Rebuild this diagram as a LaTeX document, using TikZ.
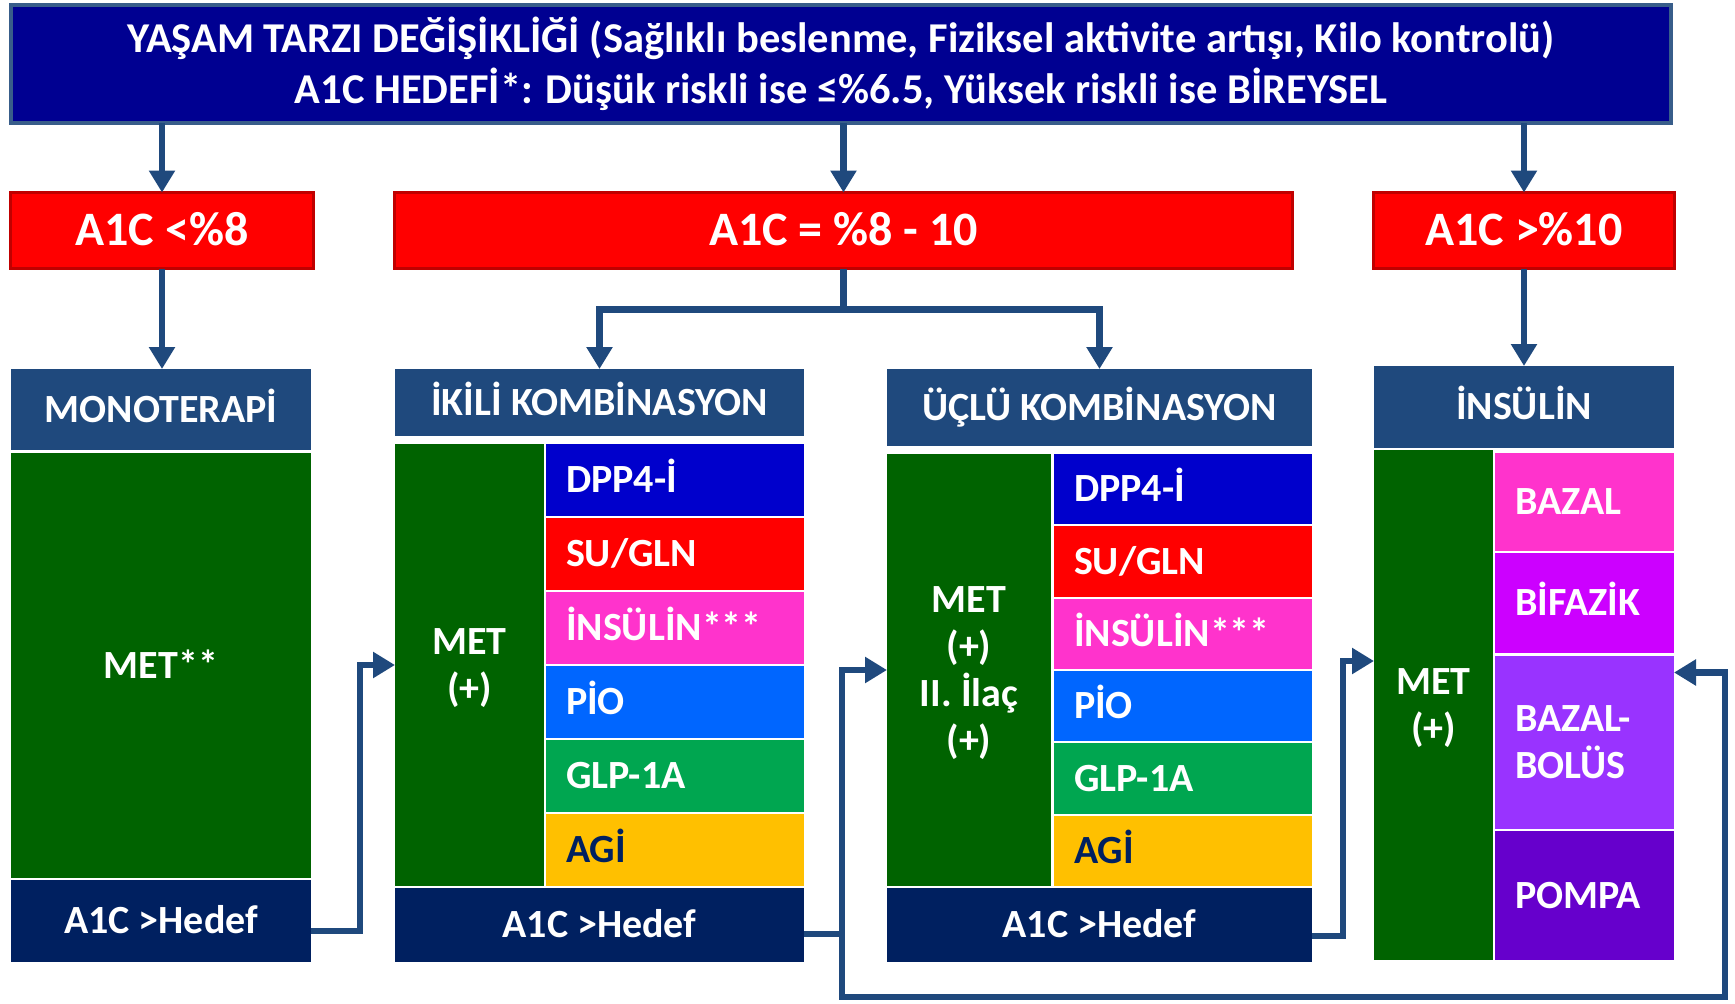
\documentclass[tikz,border=0pt]{standalone}
\usepackage{fontspec}
\setmainfont{Carlito}
\usetikzlibrary{arrows.meta}

\definecolor{topfill}{RGB}{0,0,145}
\definecolor{topline}{RGB}{56,93,138}
\definecolor{redfill}{RGB}{255,0,0}
\definecolor{redline}{RGB}{192,0,0}
\definecolor{headblue}{RGB}{31,73,125}
\definecolor{metgreen}{RGB}{0,99,0}
\definecolor{navy}{RGB}{0,32,96}
\definecolor{dppblue}{RGB}{0,0,204}
\definecolor{insmag}{RGB}{255,51,204}
\definecolor{pioblue}{RGB}{0,102,255}
\definecolor{glpgreen}{RGB}{0,166,80}
\definecolor{agigold}{RGB}{255,192,0}
\definecolor{bifviolet}{RGB}{204,0,255}
\definecolor{bbpurple}{RGB}{153,51,255}
\definecolor{pompurple}{RGB}{102,0,204}

\begin{document}
\begin{tikzpicture}[x=1pt, y=-1pt,
  cell/.style={rectangle, inner sep=0pt, outer sep=0pt, text=white,
    font=\fontsize{40}{47}\selectfont\bfseries,
    text height=25pt, text depth=0pt, align=center},
  rowcell/.style={cell, inner xsep=20pt, align=left},
  redbox/.style={cell, draw=redline, fill=redfill, line width=3pt,
    minimum height=76pt, font=\fontsize{48}{56}\selectfont\bfseries,
    text height=30pt},
  conn/.style={draw=headblue, line width=6.5pt,
    -{Triangle[width=25pt,length=22pt]}},
]
\useasboundingbox (0,0) rectangle (1735,1004);
\fill[white] (0,0) rectangle (1735,1004);

% lifestyle banner
\node[cell, draw=topline, fill=topfill, line width=4pt,
  minimum width=1660pt, minimum height=118pt,
  font=\fontsize{42.5}{51}\selectfont\bfseries, text height=78pt] (top) at (841,64)
  {YAŞAM TARZI DEĞİŞİKLİĞİ (Sağlıklı beslenme, Fiziksel aktivite artışı, Kilo kontrolü)\\
   A1C HEDEFİ*: Düşük riskli ise ≤\%6.5, Yüksek riskli ise BİREYSEL};

% A1C ranges
\node[redbox, minimum width=303pt] (red1) at (162,230.5) {A1C <\%8};
\node[redbox, minimum width=898pt] (red2) at (843.5,230.5) {A1C = \%8 - 10};
\node[redbox, minimum width=301pt] (red3) at (1524,230.5) {A1C >\%10};

% monotherapy
\node[cell, fill=headblue, minimum width=300pt, minimum height=81pt] (mhead) at (161,409.5) {MONOTERAPİ};
\node[cell, fill=metgreen, minimum width=300pt, minimum height=425pt] (mgreen) at (161,665.5) {MET**};
\node[cell, fill=navy, minimum width=300pt, minimum height=82pt] (mhedef) at (161,921) {A1C >Hedef};

% dual combination
\node[cell, fill=headblue, minimum width=409pt, minimum height=67pt] (ihead) at (599.5,402.5) {İKİLİ KOMBİNASYON};
\node[cell, fill=metgreen, minimum width=149pt, minimum height=442pt, text height=72pt] (igreen) at (469.5,665) {MET\\(+)};
\node[rowcell, text width=218pt, fill=dppblue, minimum height=72pt] (idpp) at (675,480) {DPP4-İ};
\node[rowcell, text width=218pt, fill=redfill, minimum height=72pt] (isu) at (675,554) {SU/GLN};
\node[rowcell, text width=218pt, fill=insmag, minimum height=72pt] (iins) at (675,628) {İNSÜLİN***};
\node[rowcell, text width=218pt, fill=pioblue, minimum height=72pt] (ipio) at (675,702) {PİO};
\node[rowcell, text width=218pt, fill=glpgreen, minimum height=72pt] (iglp) at (675,776) {GLP-1A};
\node[rowcell, text width=218pt, fill=agigold, minimum height=72pt, text=navy] (iagi) at (675,850) {AGİ};
\node[cell, fill=navy, minimum width=409pt, minimum height=74pt] (ihedef) at (599.5,925) {A1C >Hedef};

% triple combination
\node[cell, fill=headblue, minimum width=425pt, minimum height=77pt] (uhead) at (1099.5,407.5) {ÜÇLÜ KOMBİNASYON};
\node[cell, fill=metgreen, minimum width=164pt, minimum height=432pt, text height=166pt] (ugreen) at (969,670) {MET\\(+)\\II. İlaç\\(+)};
\node[rowcell, text width=218pt, fill=dppblue, minimum height=70.3pt] (udpp) at (1183,489.2) {DPP4-İ};
\node[rowcell, text width=218pt, fill=redfill, minimum height=70.3pt] (usu) at (1183,561.5) {SU/GLN};
\node[rowcell, text width=218pt, fill=insmag, minimum height=70.3pt] (uins) at (1183,633.8) {İNSÜLİN***};
\node[rowcell, text width=218pt, fill=pioblue, minimum height=70.3pt] (upio) at (1183,706.2) {PİO};
\node[rowcell, text width=218pt, fill=glpgreen, minimum height=70.3pt] (uglp) at (1183,778.5) {GLP-1A};
\node[rowcell, text width=218pt, fill=agigold, minimum height=70.3pt, text=navy] (uagi) at (1183,850.8) {AGİ};
\node[cell, fill=navy, minimum width=425pt, minimum height=74pt] (uhedef) at (1099.5,925) {A1C >Hedef};

% insulin
\node[cell, fill=headblue, minimum width=300pt, minimum height=82pt] (nhead) at (1524,407) {İNSÜLİN};
\node[cell, fill=metgreen, minimum width=119pt, minimum height=510pt, text height=72pt] (ngreen) at (1433.5,705) {MET\\(+)};
\node[rowcell, text width=139pt, fill=insmag, minimum height=98pt] (nbaz) at (1584.5,502) {BAZAL};
\node[rowcell, text width=139pt, fill=bifviolet, minimum height=100pt] (nbif) at (1584.5,603) {BİFAZİK};
\node[rowcell, text width=139pt, fill=bbpurple, minimum height=173pt, text depth=47pt] (nbb) at (1584.5,742.5) {BAZAL-\\BOLÜS};
\node[rowcell, text width=139pt, fill=pompurple, minimum height=129pt] (npom) at (1584.5,895.5) {POMPA};

% connectors
\draw[conn] (red1.north |- top.south) -- (red1.north);
\draw[conn] (red2.north |- top.south) -- (red2.north);
\draw[conn] (red3.north |- top.south) -- (red3.north);
\draw[conn] (red1.south) -- (red1.south |- mhead.north);
\draw[conn] (red3.south) -- (nhead.north);
\draw[conn] (red2.south) -- ++(0,41) -| (ihead.north);
\draw[conn] (red2.south) -- ++(0,41) -| (uhead.north);
\draw[conn] ([yshift=-10pt]mhedef.east) -- ++(49,0) |- (igreen.west);
\draw[conn] ([yshift=-9pt]ihedef.east) -- ++(38,0) |- (ugreen.west);
\coordinate (loopR) at (1725,997);
\draw[conn] ([yshift=-9pt]ihedef.east) -- ++(38,0) |- (loopR) |- ([yshift=70pt]nbb.east);
\draw[conn] ([yshift=-11pt]uhedef.east) -- ++(31,0) |- ([yshift=44pt]ngreen.west);
\end{tikzpicture}
\end{document}
